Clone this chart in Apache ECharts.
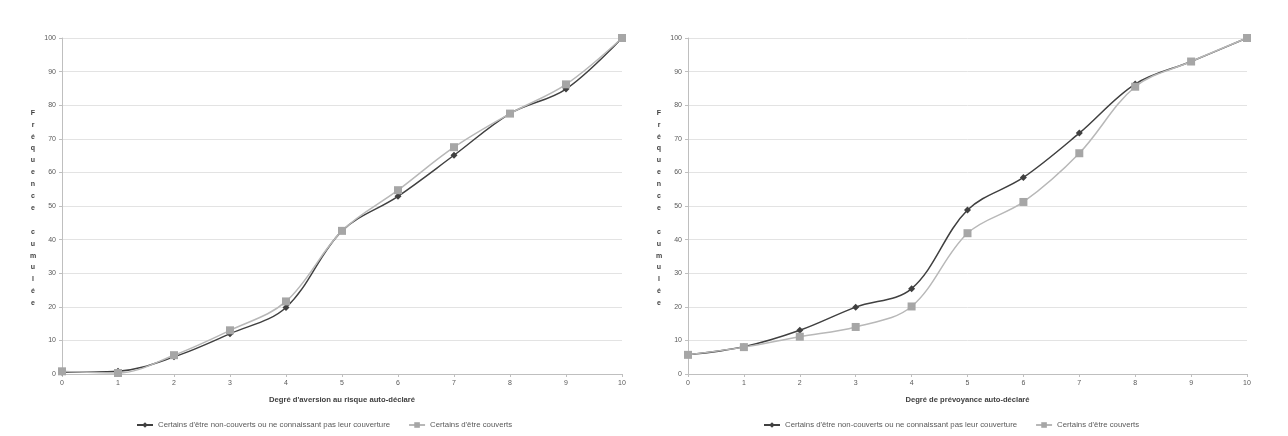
<!DOCTYPE html>
<html><head><meta charset="utf-8">
<script src="https://cdn.jsdelivr.net/npm/echarts@6/dist/echarts.min.js"></script>
<style>html,body{margin:0;padding:0;background:#fff}#c{width:1288px;height:436px}</style>
</head><body><div id="c"></div>
<script>
const categories = ['0','1','2','3','4','5','6','7','8','9','10'];
const seriesNames = ["Certains d'être non-couverts ou ne connaissant pas leur couverture", "Certains d'être couverts"];
const xTitleLeft = "Degré d'aversion au risque auto-déclaré";
const xTitleRight = "Degré de prévoyance auto-déclaré";
const yTitle = "Fréquence cumulée";
const aversionNonCouverts = [0.5, 0.8, 5.1, 12.0, 19.8, 42.6, 52.9, 65.1, 77.5, 84.8, 100];
const aversionCouverts    = [0.8, 0.3, 5.6, 13.0, 21.6, 42.6, 54.7, 67.5, 77.5, 86.2, 100];
const prevoyanceNonCouverts = [5.7, 8.1, 13.0, 19.9, 25.4, 48.8, 58.5, 71.7, 86.3, 93.0, 100];
const prevoyanceCouverts    = [5.7, 8.0, 11.1, 14.0, 20.1, 41.9, 51.2, 65.7, 85.5, 93.0, 100];

const chart = echarts.init(document.getElementById('c'));
const font = 'Liberation Sans, Arial, sans-serif';
function xAx(i, name, fs){
  return {type:'category', gridIndex:i, data:categories, boundaryGap:false,
    name:name, nameLocation:'middle', nameGap:22,
    nameTextStyle:{fontSize:fs, fontWeight:'bold', color:'#404040', fontFamily:font},
    axisLine:{lineStyle:{color:'#bfbfbf'}}, axisTick:{show:true, lineStyle:{color:'#bfbfbf'}, length:3},
    axisLabel:{fontSize:7, color:'#595959', margin:6, fontFamily:font}, splitLine:{show:false}};
}
function yAx(i){
  return {type:'value', gridIndex:i, min:0, max:100, interval:10,
    axisLine:{show:true, lineStyle:{color:'#bfbfbf'}}, axisTick:{show:true, length:3, lineStyle:{color:'#bfbfbf'}},
    axisLabel:{fontSize:7, color:'#595959', margin:6, fontFamily:font},
    splitLine:{lineStyle:{color:'#e3e3e3', width:1}}};
}
function ser(name, i, data, dark){
  return {name:name, type:'line', xAxisIndex:i, yAxisIndex:i, data:data, smooth:0.35,
    symbol: dark ? 'diamond' : 'rect', symbolSize: dark ? 7 : 8,
    lineStyle:{color: dark ? '#404040' : '#b8b8b8', width:1.5},
    itemStyle:{color: dark ? '#404040' : '#a6a6a6'}, z: dark ? 2 : 3};
}
const vt = yTitle.split('').join('\n');
const legendText = {fontSize:7.8, color:'#595959', fontFamily:font};
chart.setOption({
  backgroundColor:'#fff',
  animation:false,
  grid:[{left:62, right:666, top:38, bottom:62}, {left:688, right:41, top:38, bottom:62}],
  xAxis:[xAx(0, xTitleLeft, 7.7), xAx(1, xTitleRight, 7.6)],
  yAxis:[yAx(0), yAx(1)],
  legend:[
    {left:131, top:416, itemWidth:16, itemHeight:7, itemGap:18, textStyle:legendText, data:seriesNames},
    {left:758, top:416, itemWidth:16, itemHeight:7, itemGap:18, textStyle:legendText, data:seriesNames}
  ],
  graphic:[
    {type:'text', x:33, y:208, style:{text:vt, fontSize:7, fontWeight:'bold', fill:'#404040', lineHeight:11.9, align:'center', verticalAlign:'middle', fontFamily:font}},
    {type:'text', x:659, y:208, style:{text:vt, fontSize:7, fontWeight:'bold', fill:'#404040', lineHeight:11.9, align:'center', verticalAlign:'middle', fontFamily:font}}
  ],
  series:[
    ser(seriesNames[0], 0, aversionNonCouverts, true),
    ser(seriesNames[1], 0, aversionCouverts, false),
    ser(seriesNames[0], 1, prevoyanceNonCouverts, true),
    ser(seriesNames[1], 1, prevoyanceCouverts, false)
  ]
});
</script></body></html>
